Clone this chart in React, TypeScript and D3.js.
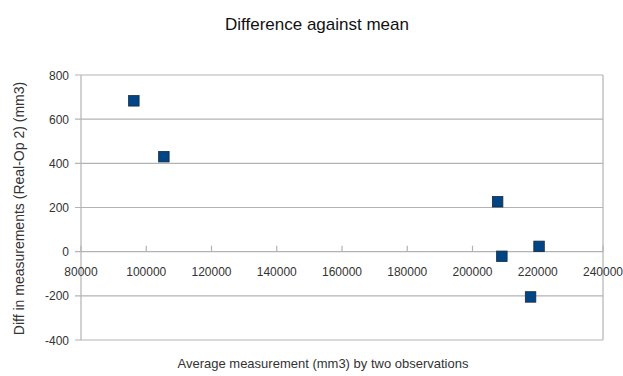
import React from "react";
import * as d3 from "d3";

const avgMeasurement = [96200, 105400, 207700, 209000, 220400, 217800];
const diffMeasurement = [683, 430, 226, -21, 24, -205];
const xTicks = [80000, 100000, 120000, 140000, 160000, 180000, 200000, 220000, 240000];
const yTicks = [-400, -200, 0, 200, 400, 600, 800];

const W = 623;
const H = 376;
const left = 81;
const right = 603;
const top = 75;
const bottom = 340;
const font = "'Liberation Sans', Arial, sans-serif";

export default function App() {
  const x = d3.scaleLinear().domain([80000, 240000]).range([left, right]);
  const y = d3.scaleLinear().domain([-400, 800]).range([bottom, top]);
  const grid = "#b3b3b3";
  const ms = 10.5;
  return (
    <svg width={W} height={H} style={{ position: "absolute", left: 0, top: 0, background: "#fff" }}>
      <rect x={0} y={0} width={W} height={H} fill="#fff" />
      <text x={317} y={30} textAnchor="middle" fontFamily={font} fontSize={17} fill="#111">
        Difference against mean
      </text>
      {yTicks.map((t) => (
        <g key={"y" + t}>
          <line x1={left - 6} x2={right} y1={y(t)} y2={y(t)} stroke={grid} strokeWidth={1.2} />
          <text x={left - 12} y={y(t) + 4.5} textAnchor="end" fontFamily={font} fontSize={12} fill="#333">
            {t}
          </text>
        </g>
      ))}
      <line x1={left} x2={left} y1={top} y2={bottom} stroke={grid} strokeWidth={1.2} />
      <line x1={right} x2={right} y1={top} y2={bottom} stroke={grid} strokeWidth={1.2} />
      {xTicks.map((t) => (
        <g key={"x" + t}>
          <line x1={x(t)} x2={x(t)} y1={y(0) - 6} y2={y(0)} stroke={grid} strokeWidth={1.2} />
          <text x={x(t)} y={y(0) + 24} textAnchor="middle" fontFamily={font} fontSize={12} fill="#333">
            {t}
          </text>
        </g>
      ))}
      {avgMeasurement.map((v, i) => (
        <rect
          key={"p" + i}
          x={x(v) - ms / 2}
          y={y(diffMeasurement[i]) - ms / 2}
          width={ms}
          height={ms}
          fill="#004586"
          stroke="#1a2a3a"
          strokeWidth={0.8}
        />
      ))}
      <text
        transform={`translate(24,${(top + bottom) / 2 + 1}) rotate(-90)`}
        textAnchor="middle"
        fontFamily={font}
        fontSize={14}
        fill="#333"
      >
        Diff in measurements (Real-Op 2) (mm3)
      </text>
      <text x={323} y={368} textAnchor="middle" fontFamily={font} fontSize={13} fill="#333">
        Average measurement (mm3) by two observations
      </text>
    </svg>
  );
}
